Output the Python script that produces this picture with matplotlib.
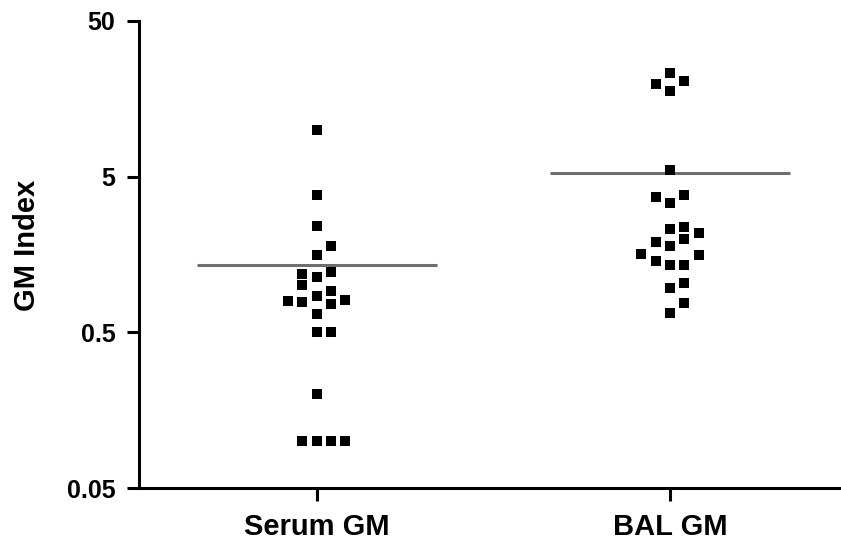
"""Column scatter of galactomannan index, serum vs BAL."""

import numpy as np
import matplotlib
matplotlib.use("Agg")
import matplotlib.pyplot as plt

plt.rcParams["font.family"] = ["Liberation Sans", "DejaVu Sans"]
plt.rcParams["font.weight"] = "bold"

groups = ["Serum GM", "BAL GM"]
serum_gm = [1.58, 1.8, 2.4, 3.8, 10.0, 1.13, 1.22, 1.19, 0.855, 0.92, 1.0,
            0.66, 0.76, 0.78, 0.805, 0.79, 0.5, 0.5, 0.2, 0.1, 0.1, 0.1, 0.1]
bal_gm = [23.3, 17.8, 20.7, 19.7, 5.5, 3.39, 3.8, 3.7, 2.29, 2.39, 1.79, 2.0,
          1.9, 2.18, 1.36, 1.36, 1.43, 1.58, 1.60, 0.97, 1.03, 0.67, 0.77]
y_ticks = [0.05, 0.5, 5, 50]
y_tick_labels = ["0.05", "0.5", "5", "50"]


def swarm_offsets(values, step=0.0405, min_gap=0.074):
    """Greedy column-scatter layout: nearest free slot, gap measured in decades."""
    logs = np.log10(values)
    placed = []
    slots = []
    for lv in logs:
        for s in (0, 1, -1, 2, -2, 3, -3, 4, -4):
            if all(ps != s or abs(pl - lv) >= min_gap for ps, pl in placed):
                break
        placed.append((s, lv))
        slots.append(s)
    return np.array(slots) * step


fig = plt.figure(figsize=(8.41, 5.44), dpi=100)
ax = fig.add_axes([0.1653, 0.1029, 0.8347, 0.8585])

for i, vals in enumerate([serum_gm, bal_gm]):
    vals = np.asarray(vals, dtype=float)
    ax.plot(i + swarm_offsets(vals), vals, "s", color="black", ms=7.9, mew=0)
    ax.plot([i - 0.34, i + 0.34], [vals.mean()] * 2, color="#6e6e6e", lw=2.2,
            solid_capstyle="butt", zorder=1)

ax.set_yscale("log")
ax.set_ylim(0.05, 50)
ax.set_xlim(-0.503, 1.484)
ax.set_yticks(y_ticks)
ax.set_yticklabels(y_tick_labels)
ax.minorticks_off()
ax.set_xticks(range(len(groups)))
ax.set_xticklabels(groups, fontsize=21, fontweight="bold")
ax.tick_params(axis="y", labelsize=18, width=2.2, length=9, pad=8)
ax.tick_params(axis="x", width=2.2, length=9, pad=9)
ax.set_ylabel("GM Index", fontsize=21, fontweight="bold")
ax.yaxis.set_label_coords(-0.14, 0.52)
for side in ("top", "right"):
    ax.spines[side].set_visible(False)
for side in ("left", "bottom"):
    ax.spines[side].set_linewidth(2.2)

fig.savefig("out.png", dpi=100)
